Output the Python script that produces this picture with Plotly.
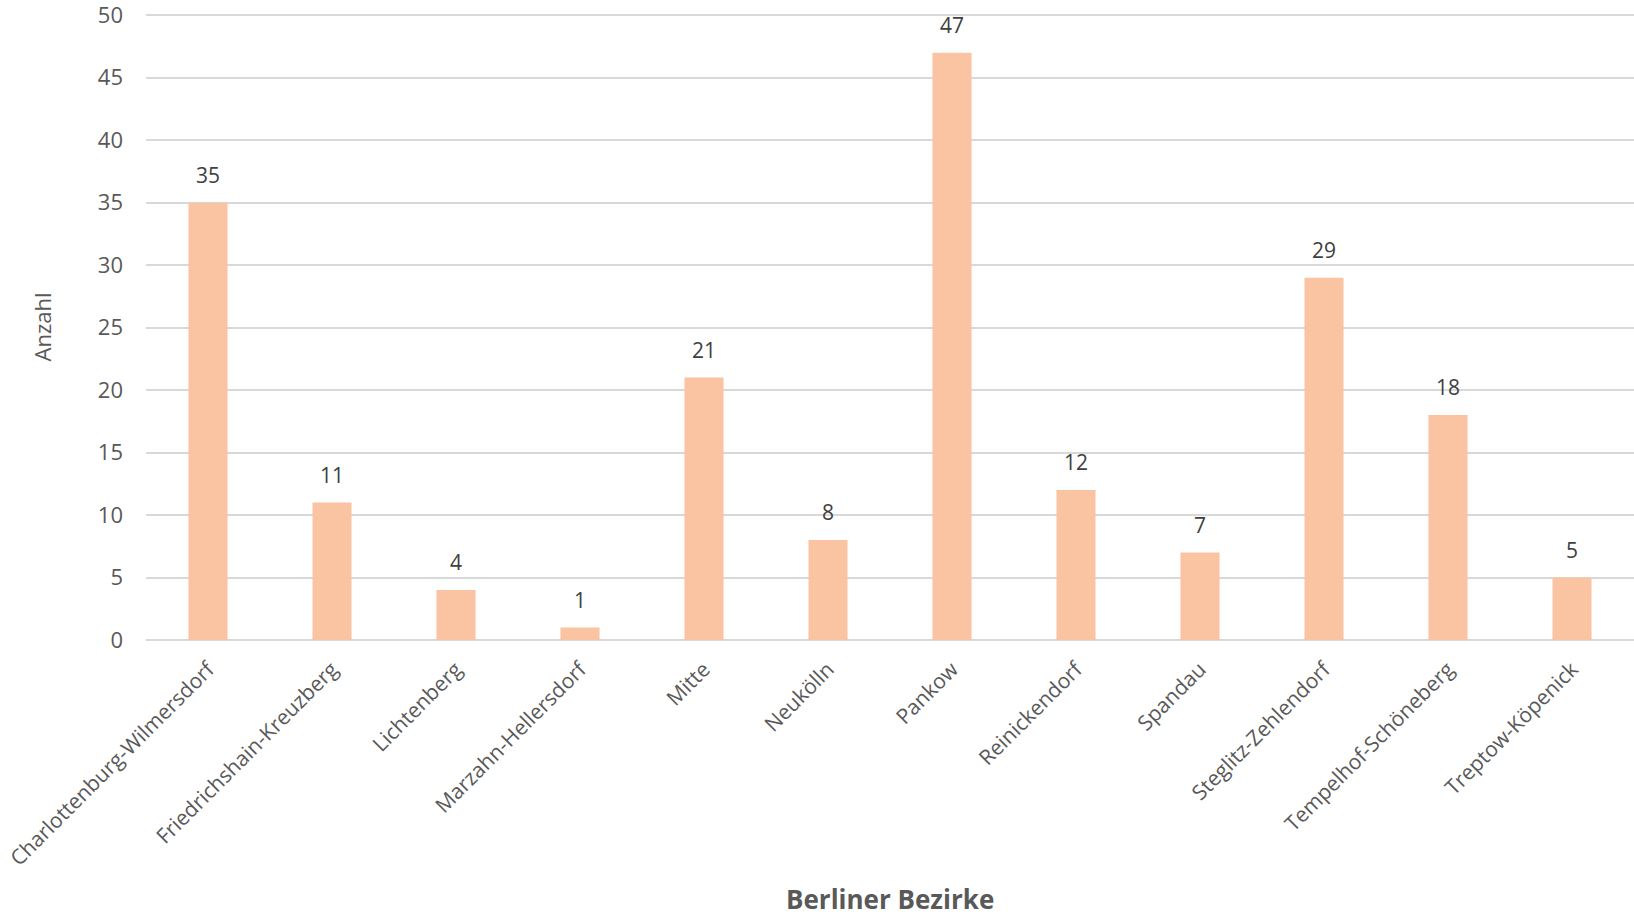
import plotly.graph_objects as go

bezirke = ["Charlottenburg-Wilmersdorf", "Friedrichshain-Kreuzberg", "Lichtenberg",
           "Marzahn-Hellersdorf", "Mitte", "Neukölln", "Pankow", "Reinickendorf",
           "Spandau", "Steglitz-Zehlendorf", "Tempelhof-Schöneberg", "Treptow-Köpenick"]
anzahl = [35, 11, 4, 1, 21, 8, 47, 12, 7, 29, 18, 5]
y_ticks = [0, 5, 10, 15, 20, 25, 30, 35, 40, 45, 50]

FONT = "Open Sans"
BAR = "#FAC3A1"

fig = go.Figure()
fig.add_trace(go.Bar(x=bezirke, y=anzahl, marker=dict(color=BAR, line=dict(width=0)),
                     hoverinfo="x+y"))

for b, v in zip(bezirke, anzahl):
    fig.add_annotation(x=b, y=v, text=str(v), showarrow=False, yanchor="bottom",
                       yshift=12, font=dict(family=FONT, size=21, color="#404040"))

fig.add_annotation(x=0.5, y=0, xref="paper", yref="paper", text="<b>Berliner Bezirke</b>",
                   showarrow=False, xanchor="center", yanchor="middle", yshift=-259,
                   borderpad=0,
                   font=dict(family=FONT, size=26, color="#595959"))

fig.update_layout(
    width=1634, height=917,
    margin=dict(l=146, r=0, t=14, b=277),
    plot_bgcolor="white", paper_bgcolor="white",
    bargap=0.685, showlegend=False,
    font=dict(family=FONT, size=21, color="#595959"),
    xaxis=dict(tickangle=-45, showgrid=False, showline=False, ticks="",
               automargin=False, ticklabelstandoff=12,
               tickfont=dict(family=FONT, size=21, color="#595959")),
    yaxis=dict(range=[0, 50.1], tickmode="array", tickvals=y_ticks,
               showgrid=True, gridcolor="#D9D9D9", gridwidth=1.5,
               zeroline=True, zerolinecolor="#D9D9D9", zerolinewidth=1.5,
               showline=False, ticks="", ticklabelstandoff=22, automargin=False,
               ticklabeloverflow="allow",
               tickfont=dict(family=FONT, size=22, color="#595959"),
               title=dict(text="Anzahl", standoff=40,
                          font=dict(family=FONT, size=22, color="#595959"))),
)

fig.write_html("out.html")
